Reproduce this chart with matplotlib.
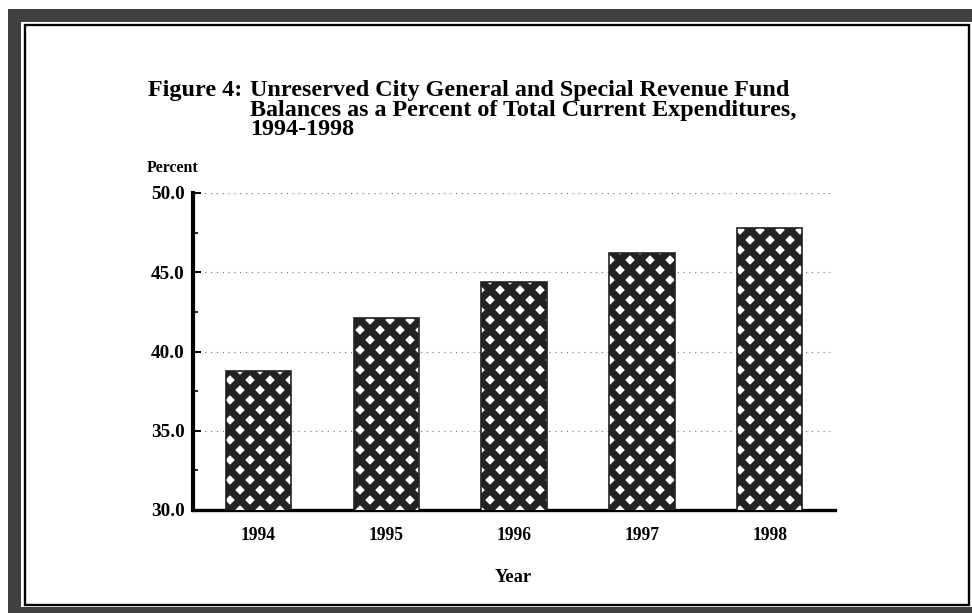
import matplotlib
matplotlib.use("Agg")
import matplotlib.pyplot as plt
from matplotlib.patches import Rectangle

years = ["1994", "1995", "1996", "1997", "1998"]
percent = [38.8, 42.1, 44.4, 46.2, 47.8]
yticks = [30.0, 35.0, 40.0, 45.0, 50.0]
title_lines = ["Unreserved City General and Special Revenue Fund",
               "Balances as a Percent of Total Current Expenditures,",
               "1994-1998"]

W, H = 972, 613
DPI = 120

plt.rcParams['font.family'] = ['Liberation Serif', 'DejaVu Serif']
plt.rcParams['font.weight'] = 'bold'
plt.rcParams['hatch.linewidth'] = 4.4
plt.rcParams['hatch.color'] = '#111111'


def fx(px):
    return px / W


def fy(py):
    return 1 - py / H


fig = plt.figure(figsize=(W / DPI, H / DPI), dpi=DPI, facecolor='white')

# scanned page frame
fig.patches.append(Rectangle((fx(8), 0), 1, fy(9), transform=fig.transFigure,
                             facecolor='#404040', edgecolor='none', zorder=-3))
fig.patches.append(Rectangle((fx(21), fy(607)), 1, fy(22) - fy(607), transform=fig.transFigure,
                             facecolor='white', edgecolor='none', zorder=-2))
fig.patches.append(Rectangle((fx(25), fy(605)), fx(969) - fx(25), fy(25) - fy(605),
                             transform=fig.transFigure, facecolor='none',
                             edgecolor='black', linewidth=1.4, zorder=-1))

ax = fig.add_axes([fx(193), fy(510), fx(835) - fx(193), fy(193) - fy(510)])
ax.set_facecolor('none')
x = list(range(len(years)))
ax.bar(x, percent, width=0.51, bottom=0, color='white', edgecolor='#222222',
       hatch='xx', linewidth=1.0, zorder=3)

ax.set_xlim(-0.51, 4.51)
ax.set_ylim(30, 50)
ax.set_yticks(yticks)
ax.set_yticklabels([f"{v:.1f}" for v in yticks], fontsize=11.5, fontweight='bold')
ax.set_yticks([32.5, 37.5, 42.5, 47.5], minor=True)
ax.set_xticks(x)
ax.set_xticklabels(years, fontsize=10.5, fontweight='bold')

ax.tick_params(axis='y', which='major', direction='in', length=5, width=1.2, pad=5)
ax.tick_params(axis='y', which='minor', direction='in', length=3, width=1.0)
ax.tick_params(axis='x', which='both', length=0, pad=10)

for s in ['top', 'right']:
    ax.spines[s].set_visible(False)
ax.spines['left'].set_linewidth(2.5)
ax.spines['bottom'].set_linewidth(2.0)

ax.grid(axis='y', linestyle=(0, (1, 4)), color='#777777', linewidth=0.7, zorder=0)
ax.set_axisbelow(True)

# titles (multi-line text with va='baseline' sits on its last line)
tsize = 14.5
fig.text(fx(148), fy(96), "Figure 4:", fontsize=tsize, fontweight='bold', va='baseline')
fig.text(fx(250), fy(135), "\n".join(title_lines), fontsize=tsize, fontweight='bold',
         va='baseline', ha='left', multialignment='left', linespacing=0.9)

fig.text(fx(147), fy(168), "Percent", fontsize=9.5, fontweight='bold', va='center')
fig.text(fx(513), fy(577), "Year", fontsize=11, fontweight='bold', va='center', ha='center')

fig.savefig("out.png", dpi=DPI, facecolor='white')
